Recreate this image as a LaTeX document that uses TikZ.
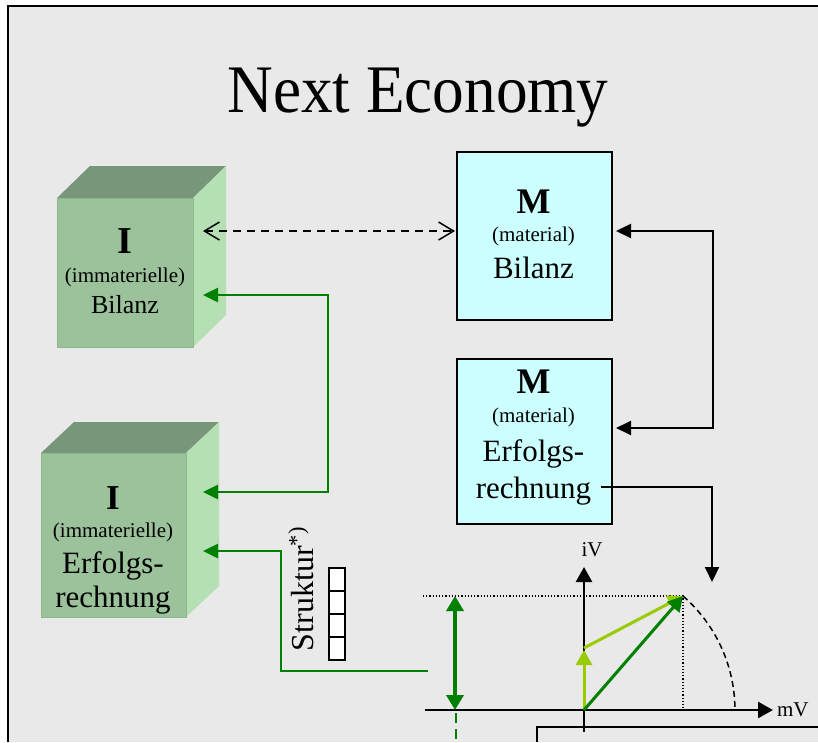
\documentclass[tikz,border=0pt]{standalone}
\usepackage{fontspec}
\setmainfont{Liberation Serif}
\usetikzlibrary{arrows.meta}
\definecolor{bggray}{HTML}{E9E9E9}
\definecolor{cubefront}{HTML}{9BC29B}
\definecolor{cubetop}{HTML}{78967A}
\definecolor{cuberight}{HTML}{B4E0B4}
\definecolor{cubeedge}{HTML}{8DB88D}
\definecolor{mfill}{HTML}{CCFFFF}
\definecolor{dgreen}{HTML}{008000}
\definecolor{lgreen}{HTML}{99CC00}
\newcommand\myfs[1]{\fontsize{#1}{#1}\selectfont}
\begin{document}
\begin{tikzpicture}[x=1pt,y=-1pt,
  txt/.style={anchor=base,inner sep=0pt,outer sep=0pt},
  front/.style={fill=cubefront,draw=cubeedge,line width=1pt,inner sep=0pt,anchor=north west},
  mbox/.style={fill=mfill,draw=black,line width=2pt,inner sep=0pt,anchor=north west,minimum width=155pt},
  blackcon/.style={line width=2pt,-{Triangle[length=15pt,width=14pt]}},
  blackdbl/.style={line width=2pt,{Triangle[length=15pt,width=14pt]}-{Triangle[length=15pt,width=14pt]}},
  greencon/.style={dgreen,line width=2.5pt,-{Triangle[length=15pt,width=14pt]}},
  greendbl/.style={dgreen,line width=2.5pt,{Triangle[length=15pt,width=14pt]}-{Triangle[length=15pt,width=14pt]}},
  dasharrow/.style={line width=1.5pt,dash pattern=on 8pt off 6pt,{Straight Barb[length=15pt,width=18pt]}-{Straight Barb[length=15pt,width=18pt]}},
  axis/.style={line width=2.6pt,-{Triangle[length=15pt,width=16pt]}},
  cell/.style={draw=black,fill=white,line width=1.5pt,minimum width=16pt,minimum height=23pt,inner sep=0pt,anchor=north west}
]
\useasboundingbox (0,0) rectangle (818,742);
\fill[white] (0,0) rectangle (818,742);
\fill[bggray] (8,6) rectangle (818,742);
\draw[line width=2pt] (8,742) -- (8,6) -- (818,6);

% title
\node[txt,xscale=0.93] (title) at (418,112) {\myfs{68}Next Economy};

% cube I Bilanz
\fill[cubetop] (57,198) -- (90,166) -- (226,166) -- (193,198) -- cycle;
\fill[cuberight] (193,198) -- (226,166) -- (226,315) -- (193,347) -- cycle;
\node[front,minimum width=136pt,minimum height=149pt] (ib) at (57,198) {};
\node[txt] (ib1) at (125,253) {\myfs{38}\bfseries I};
\node[txt] (ib2) at (125,282) {\myfs{21}(immaterielle)};
\node[txt] (ib3) at (125,313) {\myfs{26}Bilanz};

% cube I Erfolgsrechnung
\fill[cubetop] (41,453) -- (74,422) -- (219,422) -- (186,453) -- cycle;
\fill[cuberight] (186,453) -- (219,422) -- (219,586) -- (186,617) -- cycle;
\node[front,minimum width=145pt,minimum height=164pt] (ie) at (41,453) {};
\node[txt] (ie1) at (113,509) {\myfs{35}\bfseries I};
\node[txt] (ie2) at (113,537) {\myfs{21}(immaterielle)};
\node[txt] (ie3) at (113,573) {\myfs{31}Erfolgs-};
\node[txt] (ie4) at (113,607) {\myfs{31}rechnung};

% M Bilanz
\node[mbox,minimum height=168pt] (mb) at (456,151) {};
\node[txt] (mb1) at (533.5,213) {\myfs{36}\bfseries M};
\node[txt] (mb2) at (533.5,241) {\myfs{21}(material)};
\node[txt] (mb3) at (533.5,278) {\myfs{31}Bilanz};

% M Erfolgsrechnung
\node[mbox,minimum height=165pt] (me) at (456,358) {};
\node[txt] (me1) at (533.5,393) {\myfs{36}\bfseries M};
\node[txt] (me2) at (533.5,422) {\myfs{21}(material)};
\node[txt] (me3) at (533.5,461) {\myfs{31}Erfolgs-};
\node[txt] (me4) at (533.5,498) {\myfs{31}rechnung};

% connector end points
\coordinate (ibA) at (203,231);
\coordinate (mbA) at (455,231);
\coordinate (ibB) at (203,295);
\coordinate (ieA) at (203,492);
\coordinate (ieB) at (203,551);
\coordinate (mbB) at (616,231);
\coordinate (meB) at (616,428);
\coordinate (rs) at (601,487);
\coordinate (gtip) at (712,582);
\coordinate (gs) at (428,671);

\draw[dasharrow] (ibA) -- (mbA);
\draw[greendbl] (ibB) -- ++(125,0) |- (ieA);
\draw[blackdbl] (mbB) -- ++(97,0) |- (meB);
\draw[blackcon] (rs) -| (gtip);
\draw[greencon] (gs) -- ++(-147,0) |- (ieB);

% Struktur label and cells
\node[txt,anchor=base west,rotate=90] (struk) at (313,651) {\myfs{32}Struktur\textsuperscript{*)}};
\node[cell] (c1) at (328,567) {};
\node[cell] (c2) at (328,590) {};
\node[cell] (c3) at (328,613) {};
\node[cell] (c4) at (328,636) {};

% graph
\coordinate (O) at (584,710);
\coordinate (P) at (683,596);
\coordinate (Q) at (584,650);
\coordinate (Qs) at (584,648);
\coordinate (hx0) at (425,710);
\coordinate (hx1) at (773,710);
\coordinate (vy0) at (584,732);
\coordinate (vy1) at (584,567);
\coordinate (dl) at (423,596);
\coordinate (dv) at (683,708);
\coordinate (da) at (455,596);
\coordinate (db) at (455,710);
\coordinate (dc) at (456,713);
\coordinate (dd) at (456,742);

\draw[line width=1.2pt,dotted] (dl) -- (P) -- (dv);
\draw[line width=1.5pt,dash pattern=on 6pt off 4pt] (P) arc[start angle=49,end angle=1,radius=151pt];
\draw[axis] (hx0) -- (hx1);
\draw[axis] (vy0) -- (vy1);
\node[txt] (iv) at (592,556) {\myfs{21}iV};
\node[txt,anchor=base west] (mv) at (777,716) {\myfs{21}mV};

\draw[lgreen,line width=3pt,-{Triangle[length=15pt,width=16pt]}] (O) -- (Q);
\draw[lgreen,line width=3pt,-{Triangle[length=15pt,width=16pt]}] (Qs) -- (P);
\draw[dgreen,line width=3pt,-{Triangle[length=15pt,width=16pt]}] (O) -- (P);
\draw[dgreen,line width=3.5pt,{Triangle[length=15pt,width=17pt]}-{Triangle[length=15pt,width=17pt]}] (da) -- (db);
\draw[dgreen,line width=2.5pt,dash pattern=on 10pt off 6pt] (dc) -- (dd);

% bottom box
\coordinate (bx0) at (537,742);
\coordinate (bx1) at (537,727);
\coordinate (bx2) at (818,727);
\draw[line width=2pt] (bx0) -- (bx1) -- (bx2);
\end{tikzpicture}
\end{document}
